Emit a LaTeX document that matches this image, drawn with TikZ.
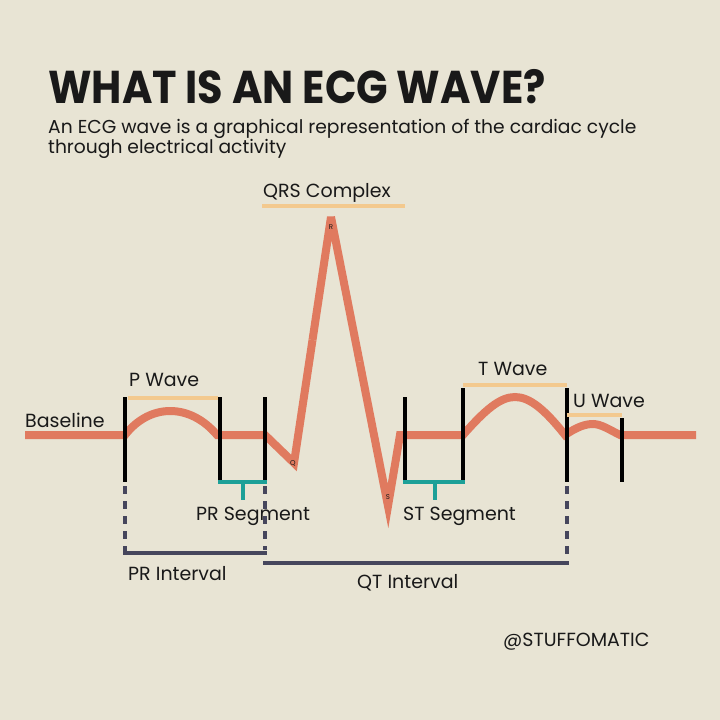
\documentclass[tikz,border=0pt]{standalone}
\usepackage{fontspec}
\setmainfont{Poppins}
\usepackage{graphicx}
\usepackage{tikz}
\usetikzlibrary{positioning}
\definecolor{bg}{RGB}{232,228,212}
\definecolor{wavec}{RGB}{224,122,95}
\definecolor{barc}{RGB}{243,201,142}
\definecolor{tealc}{RGB}{28,160,152}
\definecolor{navyc}{RGB}{70,70,92}
\definecolor{ink}{RGB}{25,25,25}

\begin{document}
\begin{tikzpicture}[x=1pt,y=-1pt,
  every node/.style={font=\fontsize{19}{21}\selectfont,text=ink,inner sep=0pt},
  lbl/.style={anchor=base west},
  wave/.style={wavec,line width=8pt,line join=miter},
  edgebar/.style={black,line width=4pt},
  spanbar/.style={barc,line width=4pt},
  segbar/.style={tealc,line width=4pt},
  ivbar/.style={navyc,line width=4pt},
  ivdash/.style={navyc,line width=4pt,dash pattern=on 8pt off 7pt},
  pk/.style={font=\fontsize{7}{7}\selectfont}]
\fill[bg] (0,0) rectangle (720,720);
% heading
\node[lbl,font=\fontsize{46}{46}\selectfont\bfseries] (title) at (48,103) {\scalebox{0.9}[1]{WHAT IS AN ECG WAVE?}};
\node[lbl,font=\fontsize{18.7}{20}\selectfont] (sub1) at (48,133) {An ECG wave is a graphical representation of the cardiac cycle};
\node[lbl,font=\fontsize{18.7}{20}\selectfont] (sub2) at (48,153) {through electrical activity};
% the wave
\draw[wave] (25,435) -- (125,435) .. controls (150,403) and (190,403) .. (217,435) -- (265,435) -- (294,463) -- (312.5,340);
\draw[wave,line join=bevel] (312.5,340) -- (331,217) -- (359.5,361.5);
\draw[wave] (359.5,361.5) -- (388,506) -- (400,435) -- (463,435)
  .. controls (485,410) and (500,397) .. (515,397) .. controls (530,397) and (545,410) .. (565,435)
  .. controls (577,427) and (585,424) .. (593,424) .. controls (601,424) and (610,430) .. (620,435) -- (696,435);
\node[pk] (r) at (331,227) {R};
\node[pk] (q) at (293,463) {Q};
\node[pk] (s) at (388,497) {S};
% limits
\draw[edgebar] (125,397) -- (125,482);
\draw[edgebar] (220,397) -- (220,482);
\draw[edgebar] (265,397) -- (265,482);
\draw[edgebar] (405,397) -- (405,482);
\draw[edgebar] (463,388) -- (463,482);
\draw[edgebar] (567,388) -- (567,482);
\draw[edgebar] (622,418) -- (622,482);
% waves
\draw[spanbar] (128,398) -- (218,398);
\draw[spanbar] (262,206) -- (405,206);
\draw[spanbar] (463,385) -- (567,385);
\draw[spanbar] (567,415) -- (622,415);
\node[lbl] (pw) at (129,386) {P Wave};
\node[lbl] (qrs) at (263,197) {QRS Complex};
\node[lbl] (tw) at (478,375) {T Wave};
\node[lbl] (uw) at (573,407) {U Wave};
\node[lbl] (base) at (25,427) {Baseline};
% segments
\draw[segbar] (218,482) -- (267,482) (243,482) -- (243,500);
\draw[segbar] (403,482) -- (465,482) (435,482) -- (435,500);
\node[lbl] (prs) at (196,520) {PR Segment};
\node[lbl] (sts) at (403,520) {ST Segment};
% intervals
\draw[ivdash] (125,486) -- (125,552);
\draw[ivdash] (265,486) -- (265,550);
\draw[ivdash] (567,486) -- (567,562);
\draw[ivbar] (123,553) -- (267,553);
\draw[ivbar] (263,563) -- (569,563);
\node[lbl] (pri) at (128,580) {PR Interval};
\node[lbl] (qti) at (357,588) {QT Interval};
\node[lbl] (tag) at (503,646) {@STUFFOMATIC};
\end{tikzpicture}
\end{document}
